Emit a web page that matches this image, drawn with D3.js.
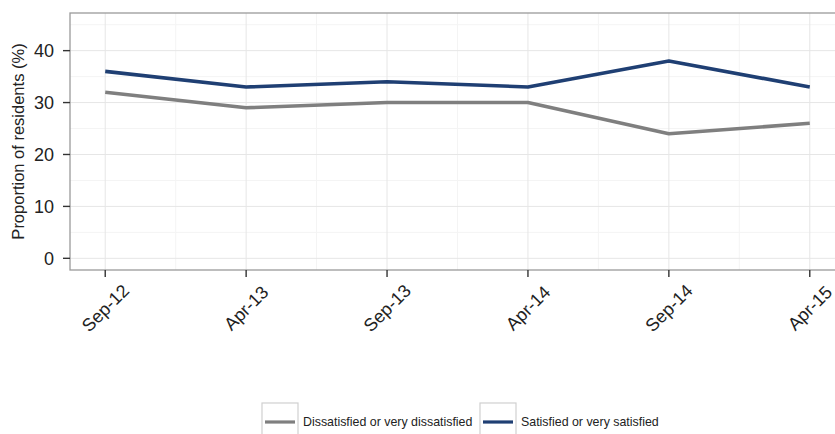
<!DOCTYPE html>
<html>
<head>
<meta charset="utf-8">
<script src="https://cdn.jsdelivr.net/npm/d3@7/dist/d3.min.js"></script>
<style>
  html, body { margin: 0; padding: 0; background: #fff; }
  svg { display: block; font-family: "Liberation Sans", Arial, sans-serif; }
</style>
</head>
<body>
<svg id="chart" width="835" height="434"></svg>
<script>
const categories = ["Sep-12", "Apr-13", "Sep-13", "Apr-14", "Sep-14", "Apr-15"];
const dissatisfied = [32, 29, 30, 30, 24, 26];
const satisfied = [36, 33, 34, 33, 38, 33];
const yTicks = [0, 10, 20, 30, 40];
const yMinor = [5, 15, 25, 35, 45];
const seriesNames = ["Dissatisfied or very dissatisfied", "Satisfied or very satisfied"];
const seriesColors = ["#7f7f7f", "#1f3f73"];

const svg = d3.select("#chart");
const panel = { left: 70, top: 13, right: 845, bottom: 270 };

const x = d3.scaleLinear().domain([0.75, categories.length + 0.25]).range([panel.left, panel.right]);
const y = d3.scaleLinear().domain([-2.25, 47.25]).range([panel.bottom, panel.top]);

const idx = categories.map((c, i) => i + 1);
const xMinor = idx.slice(0, -1).map(i => i + 0.5);

// grid
const g = svg.append("g");
g.selectAll(".ymin").data(yMinor).enter().append("line")
  .attr("x1", panel.left).attr("x2", panel.right)
  .attr("y1", d => y(d)).attr("y2", d => y(d))
  .attr("stroke", "#f4f4f4").attr("stroke-width", 1);
g.selectAll(".xmin").data(xMinor).enter().append("line")
  .attr("y1", panel.top).attr("y2", panel.bottom)
  .attr("x1", d => x(d)).attr("x2", d => x(d))
  .attr("stroke", "#f4f4f4").attr("stroke-width", 1);
g.selectAll(".ymaj").data(yTicks).enter().append("line")
  .attr("x1", panel.left).attr("x2", panel.right)
  .attr("y1", d => y(d)).attr("y2", d => y(d))
  .attr("stroke", "#e6e6e6").attr("stroke-width", 1);
g.selectAll(".xmaj").data(idx).enter().append("line")
  .attr("y1", panel.top).attr("y2", panel.bottom)
  .attr("x1", d => x(d)).attr("x2", d => x(d))
  .attr("stroke", "#e6e6e6").attr("stroke-width", 1);

// lines
const line = d3.line().x((d, i) => x(i + 1)).y(d => y(d));
[dissatisfied, satisfied].forEach((s, k) => {
  svg.append("path").datum(s)
    .attr("d", line)
    .attr("fill", "none")
    .attr("stroke", seriesColors[k])
    .attr("stroke-width", 3.6)
    .attr("stroke-linejoin", "round");
});

// panel border
svg.append("rect")
  .attr("x", panel.left).attr("y", panel.top)
  .attr("width", panel.right - panel.left).attr("height", panel.bottom - panel.top)
  .attr("fill", "none").attr("stroke", "#9a9a9a").attr("stroke-width", 1.3);

// y axis
const yAxis = svg.append("g");
yAxis.selectAll("line").data(yTicks).enter().append("line")
  .attr("x1", panel.left - 7).attr("x2", panel.left)
  .attr("y1", d => y(d)).attr("y2", d => y(d))
  .attr("stroke", "#333").attr("stroke-width", 1.4);
yAxis.selectAll("text").data(yTicks).enter().append("text")
  .attr("x", panel.left - 16).attr("y", d => y(d))
  .attr("dy", "0.36em")
  .attr("text-anchor", "end")
  .attr("font-size", 18).attr("fill", "#222")
  .text(d => d);

// x axis
const xAxis = svg.append("g");
xAxis.selectAll("line").data(idx).enter().append("line")
  .attr("x1", d => x(d)).attr("x2", d => x(d))
  .attr("y1", panel.bottom).attr("y2", panel.bottom + 7)
  .attr("stroke", "#333").attr("stroke-width", 1.4);
xAxis.selectAll("text").data(idx).enter().append("text")
  .attr("transform", d => `translate(${x(d)},${panel.bottom + 38}) rotate(-45)`)
  .attr("text-anchor", "middle")
  .attr("dy", "0.35em")
  .attr("font-size", 18).attr("fill", "#222")
  .text((d, i) => categories[i]);

// y title
svg.append("text")
  .attr("transform", `translate(24,${(panel.top + panel.bottom) / 2}) rotate(-90)`)
  .attr("text-anchor", "middle")
  .attr("font-size", 16.5).attr("fill", "#222")
  .text("Proportion of residents (%)");

// legend
const legendItems = [
  { name: seriesNames[0], color: seriesColors[0], bx: 262 },
  { name: seriesNames[1], color: seriesColors[1], bx: 480 }
];
const lg = svg.append("g");
legendItems.forEach(it => {
  lg.append("rect").attr("x", it.bx).attr("y", 403).attr("width", 36).attr("height", 40)
    .attr("fill", "#fff").attr("stroke", "#d0d0d0").attr("stroke-width", 1.2);
  lg.append("line").attr("x1", it.bx + 3).attr("x2", it.bx + 33)
    .attr("y1", 422).attr("y2", 422)
    .attr("stroke", it.color).attr("stroke-width", 3.2);
  lg.append("text").attr("x", it.bx + 41).attr("y", 422).attr("dy", "0.35em")
    .attr("font-size", 12.4).attr("fill", "#222").text(it.name);
});
</script>
</body>
</html>
